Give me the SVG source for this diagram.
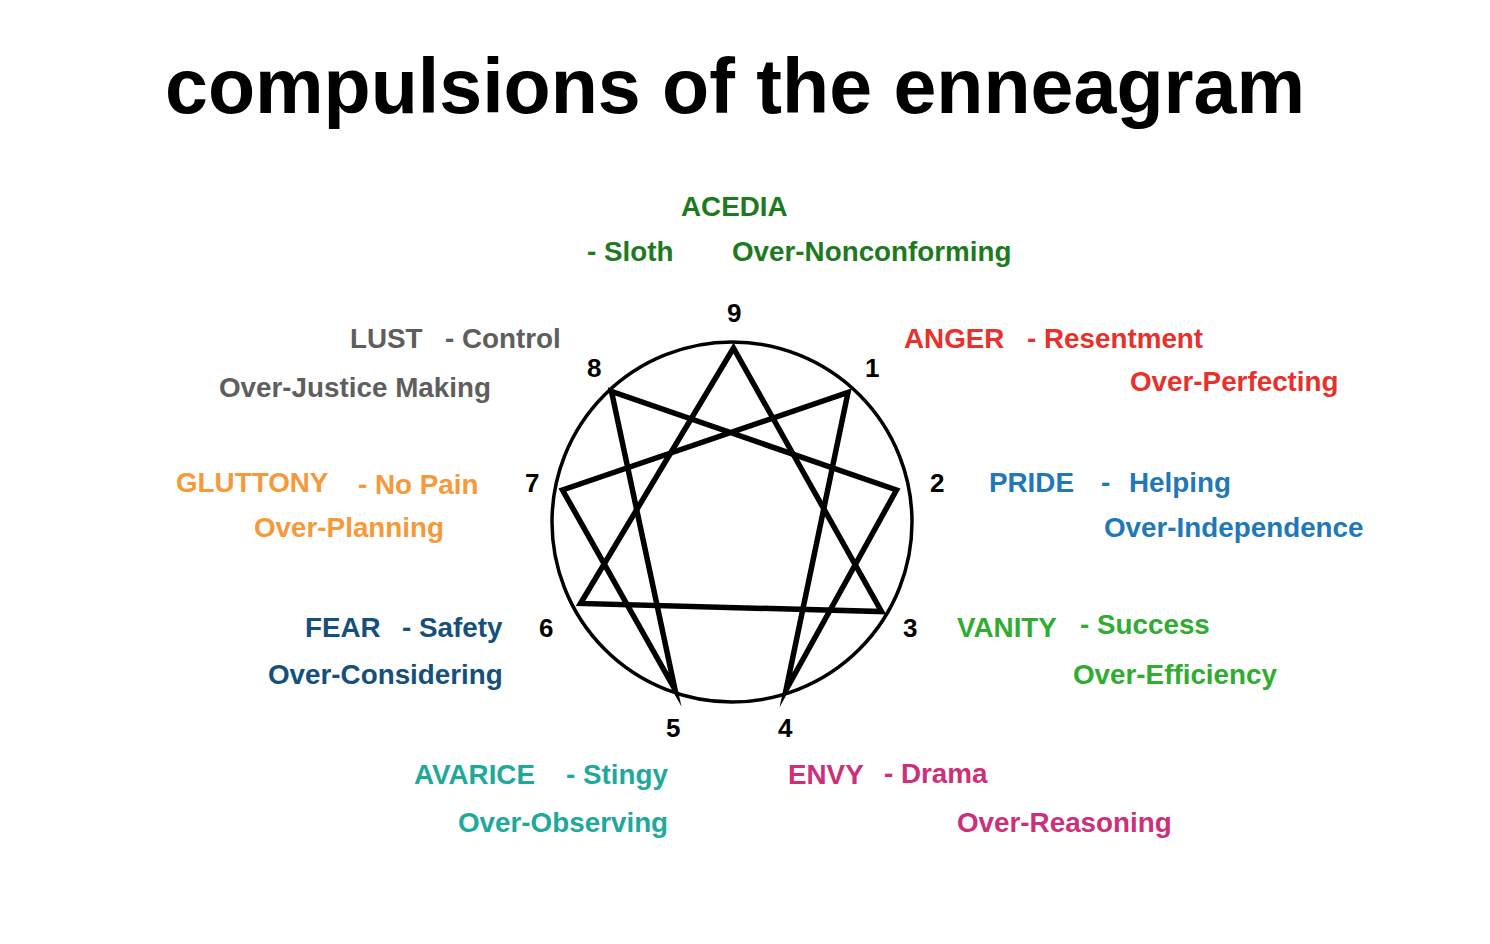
<svg xmlns="http://www.w3.org/2000/svg" width="1490" height="944" viewBox="0 0 1490 944">
<style>
text{font-family:"Liberation Sans",Arial,Helvetica,sans-serif;font-weight:bold;font-size:27.8px}
.title{font-size:77px}
.num{font-size:26px;fill:#000}
.star{fill:none;stroke:#000;stroke-width:5.5;stroke-linejoin:miter;stroke-miterlimit:20}
.ring{fill:none;stroke:#000;stroke-width:3.5}
.g9{fill:#1e7a1e}.g8{fill:#5e5e5e}.g1{fill:#e8312a}.g2{fill:#1f78b8}.g7{fill:#f5993a}.g6{fill:#15507d}.g3{fill:#30ac30}.g5{fill:#1fa99a}.g4{fill:#cc3078}
</style>
<rect width="1490" height="944" fill="#fff"/>
<text class="title" x="165" y="113" textLength="1140" lengthAdjust="spacingAndGlyphs">compulsions of the enneagram</text>
<g id="enneagram">
<circle class="ring" cx="732" cy="522" r="180"/>
</g>
<g id="connectors">
<polygon class="star" points="733.5,348 881.5,611.5 580.5,603.5"/>
<polygon class="star" points="848,392.5 786,690 896.5,490 611.5,391.5 675,689.5 562.5,490"/>
</g>
<g id="node9"><text class="num" x="727" y="322">9</text>
<text class="g9" x="681" y="216">ACEDIA</text>
<text class="g9" x="587" y="261">- Sloth</text>
<text class="g9" x="732" y="261">Over-Nonconforming</text></g>
<g id="node1"><text class="num" x="865" y="377">1</text>
<text class="g1" x="904" y="348">ANGER</text>
<text class="g1" x="1027" y="348">- Resentment</text>
<text class="g1" x="1130" y="391">Over-Perfecting</text></g>
<g id="node2"><text class="num" x="930" y="492">2</text>
<text class="g2" x="989" y="492">PRIDE</text>
<text class="g2" x="1101" y="492">-</text>
<text class="g2" x="1129" y="492">Helping</text>
<text class="g2" x="1104" y="537">Over-Independence</text></g>
<g id="node3"><text class="num" x="903" y="637">3</text>
<text class="g3" x="957" y="637">VANITY</text>
<text class="g3" x="1080" y="634">- Success</text>
<text class="g3" x="1073" y="684">Over-Efficiency</text></g>
<g id="node4"><text class="num" x="778" y="737">4</text>
<text class="g4" x="788" y="784">ENVY</text>
<text class="g4" x="884" y="783">- Drama</text>
<text class="g4" x="957" y="832">Over-Reasoning</text></g>
<g id="node5"><text class="num" x="666" y="737">5</text>
<text class="g5" x="414" y="784">AVARICE</text>
<text class="g5" x="566" y="784">- Stingy</text>
<text class="g5" x="458" y="832">Over-Observing</text></g>
<g id="node6"><text class="num" x="539" y="637">6</text>
<text class="g6" x="305" y="637">FEAR</text>
<text class="g6" x="402" y="637">- Safety</text>
<text class="g6" x="268" y="684">Over-Considering</text></g>
<g id="node7"><text class="num" x="525" y="492">7</text>
<text class="g7" x="176" y="492">GLUTTONY</text>
<text class="g7" x="358" y="494">- No Pain</text>
<text class="g7" x="254" y="537">Over-Planning</text></g>
<g id="node8"><text class="num" x="587" y="377">8</text>
<text class="g8" x="350" y="348">LUST</text>
<text class="g8" x="445" y="348">- Control</text>
<text class="g8" x="219" y="397">Over-Justice Making</text></g>
</svg>
